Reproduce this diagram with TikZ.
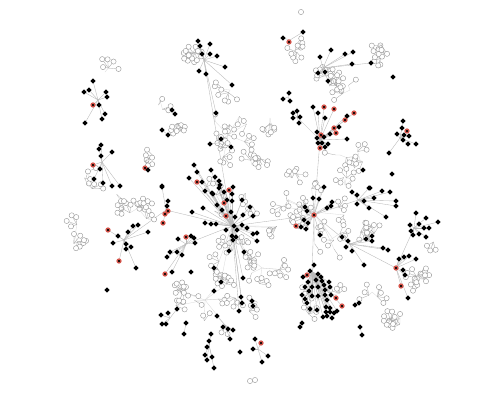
\documentclass[tikz,border=0pt]{standalone}
\usetikzlibrary{calc}
\definecolor{rr}{RGB}{215,85,75}
\definecolor{bk}{RGB}{0,0,0}
\begin{document}
\begin{tikzpicture}[x=1bp,y=-1bp,
  bdot/.style={circle,fill=black,draw=black,line width=1.0bp,inner sep=0pt,minimum size=3.9bp},
  sbk/.style={},
  srr/.style={draw=rr,fill=black!85!rr,line width=1.2bp,minimum size=4.0bp},
  hdot/.style={circle,fill=white,draw=black!42,line width=0.4bp,inner sep=0pt,minimum size=5.2bp},
  edge/.style={draw=black!28,line width=0.35bp},
  fine/.style={draw=black!35,line width=0.3bp},
  faint/.style={draw=black!15,line width=0.3bp}]
\fill[white] (0,0) rectangle (500,400);
\useasboundingbox (0,0) rectangle (500,400);
\newcommand\dotgroup[3]{%
  \foreach \gx/\gy/\gc [count=\gi] in {#3}{%
    \coordinate (#1\gi) at (\gx,\gy);
    \draw[edge] (#2) -- (#1\gi);
  }%
  \foreach \gx/\gy/\gc [count=\gi] in {#3}{%
    \node[bdot,style=s\gc] (#1\gi) at (\gx,\gy) {};
  }}
% hubs
\coordinate (hA) at (232,226);
\coordinate (hB) at (314,215);
\coordinate (hC) at (320,140);
\coordinate (hD) at (312,272);
\coordinate (hE) at (396,268);
\coordinate (hF) at (414,228);
\coordinate (hG) at (400,138);
\coordinate (hH) at (166,210);
\coordinate (hI) at (204,60);
\coordinate (hI2) at (218,143);
\coordinate (hJ) at (323,68);
\coordinate (hJ2) at (290,40);
\coordinate (hJ3) at (288,97);
\coordinate (hJ4) at (297,117);
\coordinate (hK) at (98,100);
\coordinate (hL) at (102,162);
\coordinate (hM) at (186,244);
\coordinate (hN) at (124,240);
\coordinate (hO) at (358,200);
\coordinate (hQ) at (350,244);
\coordinate (hBL1) at (170,318);
\coordinate (hBL3) at (225,325);
\coordinate (hBL4) at (209,345);
\coordinate (hBL5) at (258,349);
\draw[edge] (hA) -- (hB);
\draw[edge] (hB) -- (hC);
\draw[edge] (hB) -- (hD);
\draw[edge] (hB) -- (hQ) -- (hE);
\draw[edge] (hB) -- (hO);
\draw[edge] (hA) -- (hH);
\draw[edge] (hH) -- (hN);
\draw[edge] (hA) -- (hM);
\draw[edge] (hI) -- (hI2);
\draw[edge] (hJ4) -- (hC);
\draw[edge] (hE) -- (hF);
\draw[edge] (hA) -- (hI2);
% hollow fans
\pgfmathsetseed{11}
\foreach \cx/\cy/\cm/\cr [count=\ci] in {232/226/14/48, 314/212/14/38, 332/76/7/12, 228/135/9/22, 295/52/3/10, 385/52/3/8, 270/118/2/8, 148/158/2/8, 88/185/4/16, 75/236/3/14, 138/208/5/14, 205/300/9/35, 262/268/5/18, 318/300/3/25, 400/318/4/16, 360/160/3/12, 422/278/4/14, 340/155/2/8, 372/292/2/10, 190/58/3/10, 160/100/2/10, 105/72/1/6, 432/246/1/6, 370/228/3/12, 345/185/3/10, 185/285/3/15, 120/200/2/10, 252/165/3/12, 292/172/3/12, 330/240/3/12, 255/310/2/10, 175/130/2/8, 350/90/2/8, 230/90/2/8}{
  \coordinate (k\ci) at (\cx,\cy);
  \foreach \si in {1,...,\cm}{
    \pgfmathsetmacro\sang{rnd*360}
    \pgfmathsetmacro\srad{sqrt(rnd)*\cr}
    \pgfmathsetmacro\sx{\cx+\srad*cos(\sang)}
    \pgfmathsetmacro\sy{\cy+\srad*sin(\sang)}
    \pgfmathtruncatemacro\nlv{1+int(rnd*5)}
    \pgfmathsetmacro\base{rnd*360}
    \coordinate (s\ci-\si) at (\sx,\sy);
    \draw[faint] (k\ci) -- (s\ci-\si);
    \foreach \ki in {1,...,\nlv}{
      \pgfmathsetmacro\lang{\base+\ki*40+rnd*25}
      \pgfmathsetmacro\ldis{5+rnd*6}
      \coordinate (l\ci-\si-\ki) at ($(s\ci-\si)+(\lang:\ldis)$);
      \draw[fine] (s\ci-\si) -- (l\ci-\si-\ki);
    }
    \foreach \ki in {1,...,\nlv}{
      \node[hdot] (l\ci-\si-\ki) at (l\ci-\si-\ki) {};
    }
  }
}
% isolated hollow
\node[hdot] (o1) at (301,12) {};
\node[hdot] (o2) at (250,381) {};
\node[hdot] (o3) at (255,380) {};
% black dot groups
\dotgroup{a}{hA}{205/191/bk, 213/194/bk, 219/188/bk, 224/192/bk, 229/190/rr, 232/194/bk, 227/200/bk, 232/201/bk, 242/200/bk, 224/203/rr, 217/205/bk, 222/210/bk, 231/212/bk, 226/216/rr, 235/217/bk, 243/215/bk, 205/223/bk, 211/224/bk, 216/224/bk, 226/230/bk, 234/226/bk, 237/230/bk, 242/225/bk, 247/228/bk, 232/236/bk, 236/237/bk, 233/240/bk, 244/252/bk, 229/251/bk, 211/170/bk, 215/177/bk, 219/181/bk, 220/185/bk, 212/193/bk, 192/212/bk, 203/208/bk, 250/207/bk, 253/216/bk, 257/233/bk, 253/234/bk, 257/241/bk, 233/187/bk, 194/165/bk, 197/182/rr, 189/178/bk, 202/182/bk, 197/172/bk, 243/278/bk, 241/297/bk, 242/303/bk, 239/311/bk}
\dotgroup{n}{hN}{108/230/rr, 118/236/bk, 113/243/bk, 128/232/bk, 126/244/bk, 131/247/bk, 126/249/bk, 136/268/bk, 119/261/rr, 133/226/bk, 138/225/bk, 148/232/bk}
\dotgroup{h}{hH}{168/201/bk, 167/206/bk, 168/211/rr, 165/214/rr, 163/223/rr, 162/187/bk}
\dotgroup{m}{hM}{186/237/rr, 191/236/bk, 194/238/bk, 195/243/bk, 178/239/bk, 182/255/bk, 170/252/bk, 167/257/bk, 177/252/bk, 172/272/bk, 165/274/rr}
\dotgroup{i}{hI}{198/41/bk, 200/46/bk, 210/44/bk, 202/54/bk, 210/54/bk, 217/56/bk, 225/67/bk, 199/71/bk, 206/74/bk, 232/85/bk, 216/113/bk}
\dotgroup{ii}{hI2}{221/139/bk, 210/144/bk, 231/147/bk}
\dotgroup{k}{hK}{93/81/bk, 84/92/bk, 89/90/bk, 106/92/bk, 107/97/bk, 99/105/bk, 93/105/rr, 105/114/bk, 102/119/bk, 85/123/bk}
\dotgroup{l}{hL}{101/145/bk, 99/149/bk, 112/152/bk, 101/156/bk, 93/165/rr, 100/169/bk, 94/179/bk, 103/183/bk, 112/186/bk, 120/186/bk}
\dotgroup{j}{hJ}{331/50/bk, 320/57/bk, 345/54/bk, 353/52/bk, 352/64/bk, 371/63/bk, 318/73/bk, 325/72/bk, 328/81/bk}
\dotgroup{jb}{hJ2}{283/38/bk, 289/42/rr, 303/32/bk}
\dotgroup{jc}{hJ3}{289/93/bk, 283/99/bk, 290/101/bk}
\dotgroup{jd}{hJ4}{293/113/bk, 293/118/bk, 297/111/bk, 300/117/bk, 299/123/bk}
\dotgroup{c}{hC}{317/132/bk, 321/135/rr, 317/138/bk, 324/137/bk, 318/143/bk, 322/143/bk, 328/144/bk, 320/148/rr, 325/147/bk, 330/134/bk, 336/133/rr, 334/128/rr, 339/127/bk, 345/120/rr, 347/116/bk, 354/113/rr, 313/107/bk, 324/107/rr, 334/109/rr, 318/113/bk, 325/118/bk, 347/139/bk}
\dotgroup{g}{hG}{403/121/bk, 402/128/bk, 407/131/rr, 397/134/bk, 404/135/bk, 409/136/bk, 403/140/bk, 408/144/bk, 416/144/bk, 389/153/bk}
\dotgroup{b}{hB}{324/187/bk, 313/198/bk, 319/199/bk, 332/202/bk, 305/207/bk, 307/211/bk, 327/208/bk, 331/206/bk, 304/220/bk, 308/223/bk, 301/227/bk, 296/226/rr, 306/229/bk, 320/235/bk}
\dotgroup{o}{hO}{352/192/bk, 357/195/bk, 364/201/bk, 357/204/bk, 369/208/bk, 374/198/bk, 382/191/bk, 390/192/bk, 396/201/bk, 396/206/bk, 369/188/bk, 386/217/bk}
\dotgroup{q}{hQ}{342/237/bk, 348/241/bk, 346/247/bk, 352/251/bk, 372/236/bk, 372/241/bk, 366/239/bk, 383/248/bk, 388/250/bk, 364/265/bk}
\dotgroup{f}{hF}{416/213/bk, 426/218/bk, 438/222/bk, 410/225/bk, 419/224/bk, 424/228/bk, 429/228/bk, 411/231/bk, 413/235/bk, 419/234/bk, 426/237/bk}
\dotgroup{e}{hE}{399/259/bk, 404/257/bk, 409/256/bk, 416/259/bk, 403/270/bk, 405/275/bk, 401/286/rr, 408/298/bk}
\dotgroup{d}{hD}{314/265/bk, 310/271/bk, 307/275/rr, 303/277/bk, 318/274/bk, 321/277/bk, 308/282/bk, 316/280/bk, 322/281/bk, 324/285/bk, 329/282/bk, 330/287/bk, 305/287/bk, 312/287/bk, 318/287/bk, 325/290/bk, 309/291/bk, 302/295/bk, 312/296/bk, 318/296/bk, 325/295/bk, 331/295/bk, 305/299/bk, 327/300/bk, 336/298/rr, 342/306/rr, 307/303/bk, 310/309/bk, 326/307/bk, 330/308/bk, 326/312/bk, 330/312/bk, 334/313/bk, 337/311/bk, 327/316/bk, 332/318/bk, 323/317/bk, 317/310/bk}
\dotgroup{p}{hBL1}{161/315/bk, 168/313/bk, 177/309/bk, 162/324/bk, 166/324/bk}
\dotgroup{t}{hBL3}{217/316/bk, 223/327/bk, 228/329/bk, 233/330/bk, 230/339/bk}
\dotgroup{u}{hBL4}{211/334/bk, 209/341/bk, 207/347/bk, 205/355/bk, 207/360/bk, 212/357/bk, 214/368/bk}
\dotgroup{v}{hBL5}{255/339/bk, 261/343/rr, 253/349/bk, 268/356/bk, 262/362/bk}
% pairs
\foreach \ax/\ay/\ac/\bx/\by [count=\pi] in {145/168/rr/148/170, 172/110/bk/175/114, 162/130/bk/168/135, 355/305/bk/359/303, 302/323/bk/300/327, 360/327/bk/362/335, 186/323/bk/184/334, 252/301/bk/253/306}{
  \coordinate (pa\pi) at (\ax,\ay);
  \coordinate (pb\pi) at (\bx,\by);
  \draw[edge] (pa\pi) -- (pb\pi);
  \node[bdot,style=s\ac] (pa\pi) at (\ax,\ay) {};
  \node[bdot] (pb\pi) at (\bx,\by) {};
}
% loose dots
\foreach \x/\y [count=\zi] in {107/290, 191/272, 214/268, 221/282, 214/291, 393/77, 363/170, 392/174, 370/188, 240/352, 162/186}{
  \node[bdot] (z\zi) at (\x,\y) {};
}
% red hubs
\node[bdot,srr] (hB) at (314,215) {};
\node[bdot,srr] (hE) at (396,268) {};
\end{tikzpicture}
\end{document}
